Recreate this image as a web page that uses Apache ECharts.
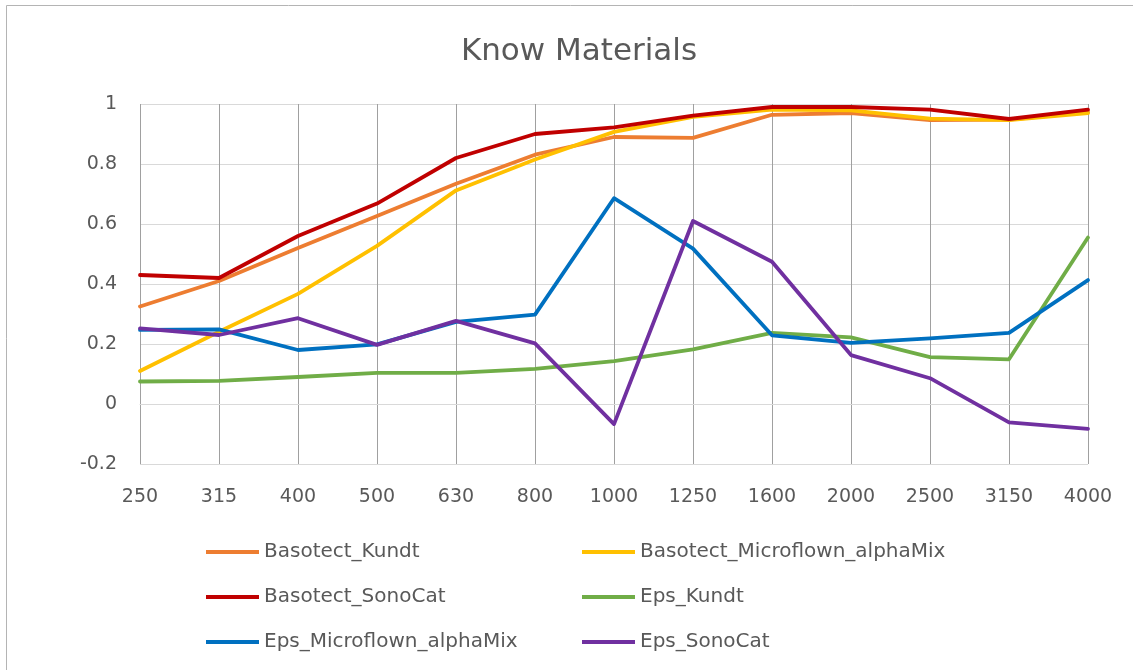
<!DOCTYPE html>
<html>
<head>
<meta charset="utf-8">
<script src="https://cdn.jsdelivr.net/npm/echarts@6/dist/echarts.min.js"></script>
<style>
  html, body { margin: 0; padding: 0; background: #ffffff; }
  #chart { width: 1133px; height: 670px; }
</style>
</head>
<body>
<div id="chart"></div>
<script>
// Frequency bands (Hz)
const frequencies = ['250', '315', '400', '500', '630', '800', '1000', '1250', '1600', '2000', '2500', '3150', '4000'];

// Absorption coefficient per material / measurement method
const basotectKundt = [0.325, 0.41, 0.52, 0.627, 0.734, 0.831, 0.89, 0.887, 0.964, 0.97, 0.946, 0.948, 0.973];
const basotectMicroflown = [0.11, 0.241, 0.367, 0.527, 0.712, 0.815, 0.907, 0.957, 0.981, 0.979, 0.951, 0.946, 0.97];
const basotectSonoCat = [0.43, 0.42, 0.56, 0.668, 0.82, 0.9, 0.922, 0.961, 0.99, 0.99, 0.981, 0.95, 0.981];
const epsKundt = [0.075, 0.077, 0.09, 0.104, 0.104, 0.117, 0.143, 0.182, 0.237, 0.222, 0.156, 0.149, 0.555];
const epsMicroflown = [0.247, 0.249, 0.18, 0.199, 0.274, 0.298, 0.686, 0.518, 0.229, 0.204, 0.219, 0.237, 0.413];
const epsSonoCat = [0.252, 0.23, 0.286, 0.197, 0.277, 0.202, -0.067, 0.61, 0.474, 0.163, 0.086, -0.061, -0.083];

const seriesNames = ['Basotect_Kundt', 'Basotect_Microflown_alphaMix', 'Basotect_SonoCat', 'Eps_Kundt', 'Eps_Microflown_alphaMix', 'Eps_SonoCat'];
const seriesData = [basotectKundt, basotectMicroflown, basotectSonoCat, epsKundt, epsMicroflown, epsSonoCat];
const seriesColors = ['#ED7D31', '#FFC000', '#C00000', '#70AD47', '#0070C0', '#7030A0'];

const textColor = '#595959';
const fontFamily = '"DejaVu Sans", sans-serif';

const chart = echarts.init(document.getElementById('chart'), null, { renderer: 'canvas' });

const legendCommon = {
  orient: 'vertical',
  icon: 'rect',
  padding: 0,
  itemWidth: 53,
  itemHeight: 4,
  itemGap: 25,
  selectedMode: false,
  textStyle: { color: textColor, fontSize: 20, fontFamily: fontFamily, lineHeight: 20 }
};

chart.setOption({
  animation: false,
  backgroundColor: '#ffffff',
  title: {
    text: 'Know Materials',
    left: 574,
    top: 31,
    textAlign: 'center',
    textStyle: { color: textColor, fontSize: 31, fontWeight: 'normal', fontFamily: fontFamily }
  },
  graphic: [{
    type: 'rect',
    shape: { x: 6.5, y: 5.5, width: 1200, height: 700 },
    style: { fill: 'none', stroke: '#b4b4b4', lineWidth: 1 },
    silent: true,
    z: -1
  }],
  legend: [
    Object.assign({ left: 206, top: 542, data: [seriesNames[0], seriesNames[2], seriesNames[4]] }, legendCommon),
    Object.assign({ left: 582, top: 542, data: [seriesNames[1], seriesNames[3], seriesNames[5]] }, legendCommon)
  ],
  grid: { left: 140, right: 45, top: 104, bottom: 206, containLabel: false },
  xAxis: {
    type: 'category',
    data: frequencies,
    boundaryGap: false,
    axisLine: { show: true, lineStyle: { color: '#d9d9d9', width: 1 } },
    axisTick: { show: false },
    axisLabel: { color: textColor, fontSize: 19, fontFamily: fontFamily, margin: 24 },
    splitLine: { show: true, lineStyle: { color: '#a0a0a0', width: 1 } }
  },
  yAxis: {
    type: 'value',
    min: -0.2,
    max: 1,
    interval: 0.2,
    axisLine: { show: false },
    axisTick: { show: false },
    axisLabel: {
      color: textColor, fontSize: 19, fontFamily: fontFamily, margin: 23,
      formatter: function (v) { return String(Math.round(v * 10) / 10); }
    },
    splitLine: { show: true, lineStyle: { color: '#d9d9d9', width: 1 } }
  },
  series: seriesNames.map(function (name, i) {
    return {
      name: name,
      type: 'line',
      data: seriesData[i],
      color: seriesColors[i],
      symbol: 'none',
      lineStyle: { width: 3.8, color: seriesColors[i], join: 'round', cap: 'round' }
    };
  })
});
</script>
</body>
</html>
